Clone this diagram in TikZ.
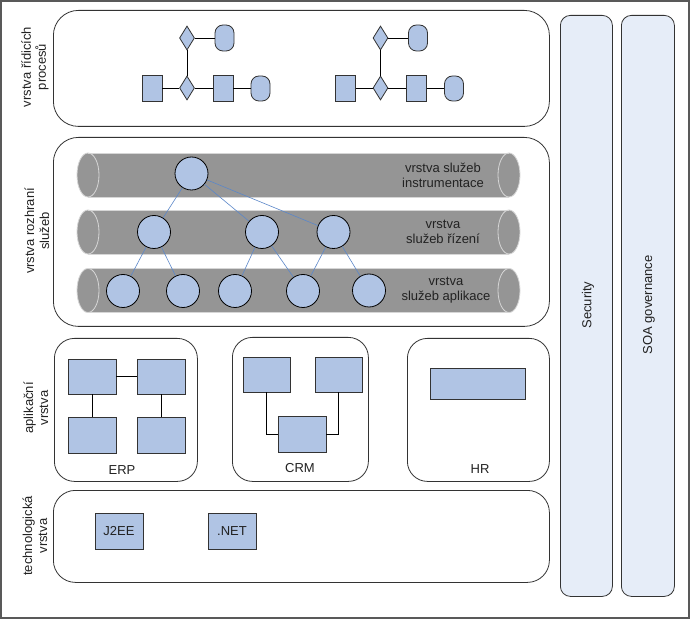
\documentclass[tikz,border=0pt]{standalone}
\usepackage{fontspec}
\setmainfont{Liberation Sans}
\usetikzlibrary{shapes.geometric}
\definecolor{nodeblue}{HTML}{B0C4E4}
\definecolor{colfill}{HTML}{E6EDF8}
\definecolor{tubegray}{HTML}{959595}
\definecolor{tubeline}{HTML}{D6D6D6}
\definecolor{svcline}{HTML}{5B87C9}
\definecolor{txt}{HTML}{222222}
\begin{document}
\begin{tikzpicture}[x=1pt,y=-1pt,
  font=\fontsize{13}{15}\selectfont, text=txt,
  layer/.style={draw=black!80, line width=0.8pt, fill=white, rounded corners=25pt, inner sep=0pt, anchor=north west},
  column/.style={draw=black!80, line width=0.8pt, fill=colfill, rounded corners=10pt, inner sep=0pt, anchor=north west},
  app/.style={draw=black!80, line width=0.8pt, fill=white, rounded corners=20pt, inner sep=0pt, anchor=north west},
  blk/.style={draw=black!80, line width=0.8pt, fill=nodeblue, inner sep=0pt},
  term/.style={blk, rounded corners=8pt, minimum width=19pt, minimum height=26pt},
  dia/.style={blk, diamond, minimum width=15pt, minimum height=24pt},
  sq/.style={blk, minimum width=20pt, minimum height=26pt},
  svc/.style={circle, draw=black, line width=0.8pt, fill=nodeblue, minimum size=33pt, inner sep=0pt},
  svcedge/.style={draw=svcline, line width=0.6pt},
  link/.style={draw=black, line width=0.8pt},
  tube/.style={fill=tubegray},
  tubeedge/.style={draw=tubeline, line width=0.8pt},
  sidelabel/.style={rotate=90, align=center, inner sep=0pt}
]
\useasboundingbox (0,0) rectangle (691,620);
\draw[line width=1.5pt, draw=black!65] (1,1) rectangle (689,618);

% layers
\node[layer, minimum width=496pt, minimum height=116pt] (proc) at (53,10) {};
\node[layer, minimum width=496pt, minimum height=189pt] (svcl) at (53,137) {};
\node[layer, rounded corners=22pt, minimum width=496pt, minimum height=92pt] (tech) at (53,490) {};
\node[app, minimum width=143pt, minimum height=143pt] (erp) at (54,338) {};
\node[app, minimum width=136pt, minimum height=144pt] (crm) at (232,337) {};
\node[app, minimum width=142pt, minimum height=143pt] (hr) at (407,338) {};
\node[column, minimum width=52pt, minimum height=581pt] (sec) at (560,15) {};
\node[column, minimum width=53pt, minimum height=581pt] (gov) at (621,15) {};
\node[sidelabel] (secl) at (588,305) {Security};
\node[sidelabel] (govl) at (649,305) {SOA governance};

% side labels
\node[sidelabel] (l1) at (35,67) {vrstva řídicích\\procesů};
\node[sidelabel] (l2) at (37,231) {vrstva rozhraní\\služeb};
\node[sidelabel] (l3) at (36,408) {aplikační\\vrstva};
\node[sidelabel] (l4) at (35,536) {technologická\\vrstva};

% process diagrams
\foreach \s/\n in {0/a,193.5/b}{
  \node[dia] (dt\n) at (187+\s,38) {};
  \node[term] (rt\n) at (224.5+\s,38) {};
  \node[sq] (sa\n) at (152+\s,88) {};
  \node[dia] (db\n) at (187+\s,88) {};
  \node[sq] (sb\n) at (223+\s,88) {};
  \node[term, minimum height=25pt] (rb\n) at (260.5+\s,88.5) {};
  \draw[link] (sa\n) -- (db\n);
  \draw[link] (db\n) -- (sb\n);
  \draw[link] (sb\n.east) -- (rb\n.west |- sb\n.east);
  \draw[link] (db\n) -- (dt\n);
  \draw[link] (dt\n) -- (rt\n);
}

% service tubes
\foreach \yc in {175,232,290.5}{
  \fill[tube] (88,\yc-22) rectangle (509,\yc+22);
  \fill[tube] (88,\yc) ellipse (11pt and 22pt);
  \fill[tube] (509,\yc) ellipse (11pt and 22pt);
  \draw[tubeedge] (88,\yc) ellipse (11pt and 22pt);
  \draw[tubeedge] (509,\yc) ellipse (11pt and 22pt);
  \draw[tubeedge] (88,\yc-22) -- (509,\yc-22);
  \draw[tubeedge] (88,\yc+22) -- (509,\yc+22);
}
\node[align=center, inner sep=0pt] (t1) at (443,175) {vrstva služeb\\instrumentace};
\node[align=center, inner sep=0pt] (t2) at (443,232) {vrstva\\služeb řízení};
\node[align=center, inner sep=0pt] (t3) at (446,290.5) {vrstva\\služeb aplikace};

% services
\node[svc] (s0) at (191.5,173.5) {};
\node[svc] (s1) at (154,232) {};
\node[svc] (s2) at (262,232) {};
\node[svc] (s3) at (333.5,232) {};
\node[svc] (a1) at (123,291) {};
\node[svc] (a2) at (183,291) {};
\node[svc] (a3) at (235,291) {};
\node[svc] (a4) at (303,291) {};
\node[svc] (a5) at (369,290.5) {};
\draw[svcedge] (s0) -- (s1);
\draw[svcedge] (s0) -- (s2);
\draw[svcedge] (s0) -- (s3);
\draw[svcedge] (s1) -- (a1);
\draw[svcedge] (s1) -- (a2);
\draw[svcedge] (s2) -- (a3);
\draw[svcedge] (s2) -- (a4);
\draw[svcedge] (s3) -- (a4);
\draw[svcedge] (s3) -- (a5);

% ERP
\node[blk, minimum width=48pt, minimum height=35pt] (e1) at (92,376.5) {};
\node[blk, minimum width=48pt, minimum height=35pt] (e2) at (161.5,376.5) {};
\node[blk, minimum width=48pt, minimum height=36pt] (e3) at (92,435) {};
\node[blk, minimum width=48pt, minimum height=36pt] (e4) at (161.5,435) {};
\draw[link] (e1) -- (e2);
\draw[link] (e1) -- (e3);
\draw[link] (e2) -- (e4);
\node (erpl) at (122,470) {ERP};

% CRM
\node[blk, minimum width=47pt, minimum height=35pt] (c1) at (266.5,374.5) {};
\node[blk, minimum width=47pt, minimum height=35pt] (c2) at (338.5,374.5) {};
\node[blk, minimum width=48pt, minimum height=36pt] (c3) at (302,434) {};
\draw[link] (c1.south) |- (c3.west);
\draw[link] (c2.south) |- (c3.east);
\node (crml) at (300,468) {CRM};

% HR
\node[blk, minimum width=95pt, minimum height=31pt] (h1) at (477.5,383.5) {};
\node (hrl) at (480,469) {HR};

% technology
\node[blk, minimum width=48pt, minimum height=36pt] (j2ee) at (119,531) {J2EE};
\node[blk, minimum width=48pt, minimum height=36pt] (net) at (232,531) {.NET};
\end{tikzpicture}
\end{document}
